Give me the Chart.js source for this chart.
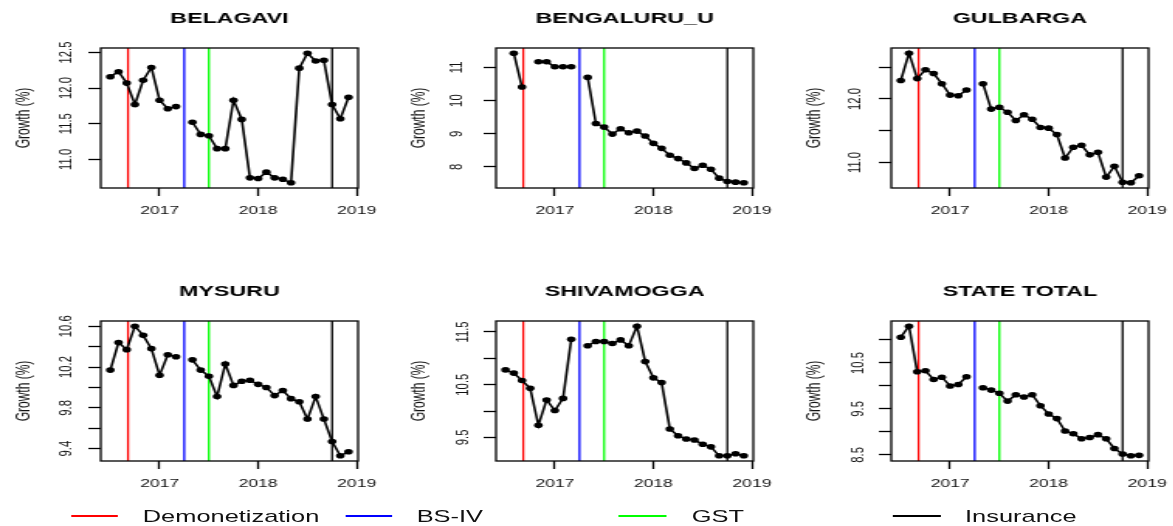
<!DOCTYPE html>
<html>
<head>
<meta charset="utf-8">
<title>Registration growth by district</title>
<script src="https://cdn.jsdelivr.net/npm/chart.js@4.4.0/dist/chart.umd.min.js"></script>
<style>
  html, body { margin: 0; padding: 0; background: #fff; overflow: hidden; }
  #stage {
    position: absolute; left: 0; top: 0; width: 757px; height: 526px;
    transform: scaleX(1.55); transform-origin: 0 0;
    font-family: "Liberation Sans", Arial, Helvetica, sans-serif;
  }
  .panel { position: absolute; }
  .key-line { position: absolute; height: 0; border-top-style: solid; border-top-width: 2px; }
  .key-text { position: absolute; font-size: 16.4px; line-height: 20px; color: #111; white-space: nowrap; }
</style>
</head>
<body>
<div id="stage"></div>
<script>
// Monthly observations, Jul 2016 – Dec 2018
const months = ['2016-07','2016-08','2016-09','2016-10','2016-11','2016-12',
                '2017-01','2017-02','2017-03','2017-04','2017-05','2017-06',
                '2017-07','2017-08','2017-09','2017-10','2017-11','2017-12',
                '2018-01','2018-02','2018-03','2018-04','2018-05','2018-06',
                '2018-07','2018-08','2018-09','2018-10','2018-11','2018-12'];
const yearTicks = [2017, 2018, 2019];

// Policy events marked on every panel
const eventNames  = ['Demonetization', 'BS-IV', 'GST', 'Insurance'];
const eventTimes  = [2016.68, 2017.25, 2017.5, 2018.75];
const eventColors = ['#ff0000', '#0000ff', '#00ff00', '#000000'];

const districts = ['BELAGAVI', 'BENGALURU_U', 'GULBARGA', 'MYSURU', 'SHIVAMOGGA', 'STATE TOTAL'];

// Growth (%) per month; null = no observation
const belagavi   = [12.16,12.23,12.07,11.77,12.11,12.29,11.83,11.71,11.74,null,11.52,11.35,11.33,11.15,11.15,11.83,11.56,10.74,10.73,10.82,10.74,10.72,10.67,12.28,12.49,12.38,12.39,11.77,11.57,11.87];
const bengaluruU = [null,11.43,10.41,null,11.17,11.17,11.02,11.02,11.02,null,10.70,9.31,9.20,8.99,9.15,9.03,9.08,8.93,8.71,8.56,8.35,8.25,8.12,7.95,8.05,7.93,7.66,7.56,7.54,7.52];
const gulbarga   = [12.29,12.72,12.32,12.46,12.40,12.24,12.06,12.05,12.14,null,12.24,11.84,11.87,11.79,11.66,11.75,11.68,11.55,11.54,11.44,11.07,11.24,11.27,11.12,11.16,10.77,10.94,10.69,10.68,10.79];
const mysuru     = [10.17,10.44,10.37,10.60,10.51,10.38,10.12,10.32,10.30,null,10.27,10.17,10.11,9.91,10.23,10.02,10.06,10.07,10.03,10.00,9.92,9.97,9.89,9.86,9.69,9.91,9.69,9.47,9.33,9.37];
const shivamogga = [10.78,10.72,10.58,10.43,9.73,10.21,10.01,10.24,11.36,null,11.24,11.32,11.32,11.28,11.35,11.24,11.61,10.94,10.63,10.54,9.66,9.53,9.47,9.45,9.37,9.32,9.15,9.15,9.19,9.15];
const stateTotal = [11.06,11.30,10.31,10.33,10.14,10.19,10.00,10.03,10.20,null,9.96,9.91,9.84,9.67,9.81,9.76,9.81,9.57,9.39,9.29,9.02,8.96,8.85,8.88,8.94,8.85,8.64,8.52,8.48,8.49];

// y-axis ticks and their printed labels ('' = tick mark only)
const belagaviTicks   = [11.0, 11.5, 12.0, 12.5];
const belagaviLabels  = ['11.0', '11.5', '12.0', '12.5'];
const bengaluruTicks  = [8, 9, 10, 11];
const bengaluruLabels = ['8', '9', '10', '11'];
const gulbargaTicks   = [11.0, 11.5, 12.0, 12.5];
const gulbargaLabels  = ['11.0', '', '12.0', ''];
const mysuruTicks     = [9.4, 9.6, 9.8, 10.0, 10.2, 10.4, 10.6];
const mysuruLabels    = ['9.4', '', '9.8', '', '10.2', '', '10.6'];
const shivamoggaTicks = [9.5, 10.0, 10.5, 11.0, 11.5];
const shivamoggaLabels= ['9.5', '', '10.5', '', '11.5'];
const stateTicks      = [8.5, 9.0, 9.5, 10.0, 10.5, 11.0];
const stateLabels     = ['8.5', '', '9.5', '', '10.5', ''];

// ---- layout ----
const FONT = '"Liberation Sans", Arial, Helvetica, sans-serif';
const AXIS_W = 64, BOX_W = 166, PAD_R = 22, TITLE_H = 48, BOX_H = 140, XAXIS_H = 36, TICK_LEN = 8;
const colLeft = [0.5, 256, 511.3];
const rowTop  = [0, 273];

const panels = [
  { name: districts[0], values: belagavi,   ticks: belagaviTicks,   labels: belagaviLabels,   col: 0, row: 0, gap: 22.2 },
  { name: districts[1], values: bengaluruU, ticks: bengaluruTicks,  labels: bengaluruLabels,  col: 1, row: 0, gap: 25.5 },
  { name: districts[2], values: gulbarga,   ticks: gulbargaTicks,   labels: gulbargaLabels,   col: 2, row: 0, gap: 23.5 },
  { name: districts[3], values: mysuru,     ticks: mysuruTicks,     labels: mysuruLabels,     col: 0, row: 1, gap: 22.0 },
  { name: districts[4], values: shivamogga, ticks: shivamoggaTicks, labels: shivamoggaLabels, col: 1, row: 1, gap: 21.5 },
  { name: districts[5], values: stateTotal, ticks: stateTicks,      labels: stateLabels,      col: 2, row: 1, gap: 21.5 }
];

const times = months.map(m => { const [y, mo] = m.split('-').map(Number); return y + (mo - 1) / 12; });
const tFirst = times[0], tLast = times[times.length - 1];
const tPad = 0.04 * (tLast - tFirst);

function paddedRange(vals) {
  const v = vals.filter(x => x !== null);
  const lo = Math.min(...v), hi = Math.max(...v), p = 0.04 * (hi - lo);
  return [lo - p, hi + p];
}

const measureCtx = document.createElement('canvas').getContext('2d');
function widestLabel(labels, size) {
  measureCtx.font = size + 'px ' + FONT;
  return Math.max(...labels.map(l => measureCtx.measureText(l).width));
}

// plot frame around the data region
const frame = {
  id: 'frame',
  afterDatasetsDraw(chart) {
    const { ctx, chartArea: a } = chart;
    ctx.save();
    ctx.strokeStyle = '#000';
    ctx.lineWidth = 1.3;
    ctx.strokeRect(a.left, a.top, a.right - a.left, a.bottom - a.top);
    ctx.restore();
  }
};

const stage = document.getElementById('stage');
const tickGrid = { drawOnChartArea: false, drawTicks: true, tickLength: TICK_LEN, tickWidth: 1.3, tickColor: '#000' };

panels.forEach(p => {
  const wrap = document.createElement('div');
  wrap.className = 'panel';
  wrap.style.left = colLeft[p.col] + 'px';
  wrap.style.top = rowTop[p.row] + 'px';
  const canvas = document.createElement('canvas');
  canvas.width = AXIS_W + BOX_W + PAD_R;
  canvas.height = TITLE_H + BOX_H + XAXIS_H;
  wrap.appendChild(canvas);
  stage.appendChild(wrap);

  const [yMin, yMax] = paddedRange(p.values);
  const yLabelPad = p.gap - TICK_LEN - widestLabel(p.labels, 11.3) / 2;

  const datasets = [{
    data: times.map((t, k) => ({ x: t, y: p.values[k] })),
    borderColor: '#000', backgroundColor: '#000', borderWidth: 1.6,
    pointRadius: 2.8, pointBorderWidth: 0, pointBackgroundColor: '#000',
    tension: 0, spanGaps: false
  }];
  eventTimes.forEach((t, e) => datasets.push({
    data: [{ x: t, y: yMin }, { x: t, y: yMax }],
    borderColor: eventColors[e], borderWidth: 1.3, pointRadius: 0, tension: 0
  }));

  new Chart(canvas, {
    type: 'line',
    data: { datasets },
    options: {
      responsive: false, animation: false, devicePixelRatio: 1,
      layout: { padding: { left: 0, right: PAD_R, top: 0, bottom: 0 } },
      plugins: {
        legend: { display: false },
        tooltip: { enabled: false },
        title: {
          display: true, text: p.name, color: '#000', fullSize: false,
          font: { family: FONT, size: 15, weight: 'bold' },
          padding: { top: 9.5, bottom: TITLE_H - 18 - 9.5 }
        }
      },
      scales: {
        x: {
          type: 'linear', min: tFirst - tPad, max: tLast + tPad,
          afterBuildTicks: s => { s.ticks = yearTicks.map(v => ({ value: v })); },
          afterFit: s => { s.height = XAXIS_H; },
          ticks: { autoSkip: false, maxRotation: 0, padding: 8, color: '#111',
                   font: { family: FONT, size: 11.3 }, callback: v => String(v) },
          grid: tickGrid, border: { display: false }
        },
        y: {
          type: 'linear', min: yMin, max: yMax,
          afterBuildTicks: s => { s.ticks = p.ticks.map(v => ({ value: v })); },
          afterFit: s => { s.width = AXIS_W; },
          ticks: { autoSkip: false, minRotation: 90, maxRotation: 90, crossAlign: 'center',
                   padding: yLabelPad, color: '#111', font: { family: FONT, size: 11.3 },
                   callback: v => p.labels[p.ticks.indexOf(v)] },
          grid: tickGrid, border: { display: false },
          title: { display: true, text: 'Growth (%)', color: '#111',
                   font: { family: FONT, size: 12 }, padding: { top: 7.1, bottom: 0 } }
        }
      }
    },
    plugins: [frame]
  });
});

// shared key along the bottom
const keyLineX = [45.8, 222.6, 399.4, 576.3];
const keyTextX = [92.1, 268.8, 446.3, 622.6];
const KEY_Y = 515.6, KEY_LINE_W = 30.5;
eventNames.forEach((name, e) => {
  const line = document.createElement('div');
  line.className = 'key-line';
  line.style.left = keyLineX[e] + 'px';
  line.style.width = KEY_LINE_W + 'px';
  line.style.top = (KEY_Y - 1) + 'px';
  line.style.borderTopColor = eventColors[e];
  stage.appendChild(line);
  const txt = document.createElement('div');
  txt.className = 'key-text';
  txt.style.left = keyTextX[e] + 'px';
  txt.style.top = (KEY_Y - 9.9) + 'px';
  txt.textContent = name;
  stage.appendChild(txt);
});
</script>
</body>
</html>
